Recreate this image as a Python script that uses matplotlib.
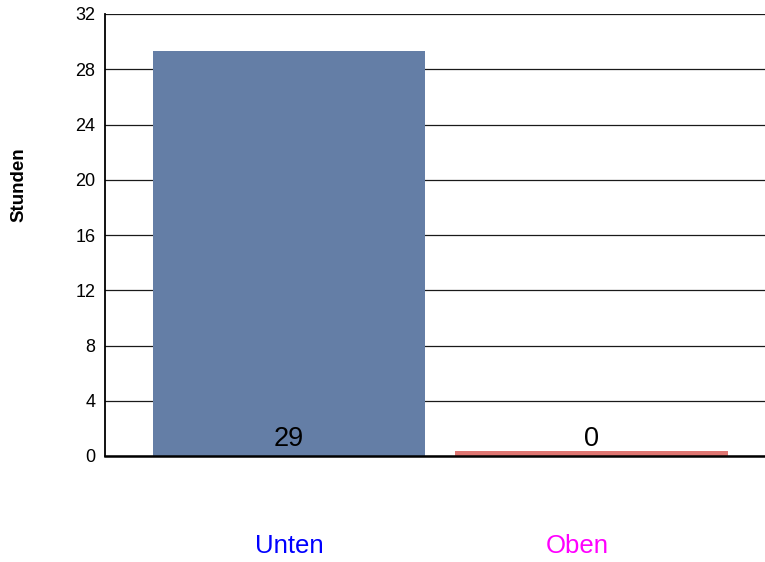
import matplotlib
matplotlib.use("Agg")
import matplotlib.pyplot as plt
import matplotlib.transforms as mtransforms

plt.rcParams['font.family'] = ['Liberation Sans', 'DejaVu Sans']

categories = ["Unten", "Oben"]
values = [29.3, 0.35]
value_labels = ["29", "0"]
bar_colors = ["#647ea6", "#de7571"]
label_colors = ["#0000ff", "#ff00ff"]
yticks = [0, 4, 8, 12, 16, 20, 24, 28, 32]

fig = plt.figure(figsize=(7.65, 5.62), dpi=100)
ax = fig.add_axes([105/765, (562-456)/562, 660/765, 442/562])

x = list(range(len(categories)))
ax.set_axisbelow(True)
ax.yaxis.grid(True, color="#1a1a1a", linewidth=0.9)
ax.bar(x, values, width=0.9, color=bar_colors, zorder=2)

for xi, lab in zip(x, value_labels):
    ax.annotate(lab, xy=(xi, 0), xytext=(0, 12.3), textcoords="offset points",
                ha="center", va="center", fontsize=19.5, color="black", zorder=3)

ax.set_xlim(-0.609, 1.574)
ax.set_ylim(0, 32)
ax.set_yticks(yticks)
ax.tick_params(axis="y", length=0, pad=7, labelsize=13)
ax.set_xticks(x)
ax.set_xticklabels(categories, fontsize=18.5)
ax.tick_params(axis="x", length=0, pad=56)
for t, c in zip(ax.get_xticklabels(), label_colors):
    t.set_color(c)
lbls = ax.get_xticklabels()
lbls[1].set_transform(lbls[1].get_transform() + mtransforms.ScaledTranslation(-14/100, 0, fig.dpi_scale_trans))

for s in ["top", "right"]:
    ax.spines[s].set_visible(False)
ax.spines["left"].set_linewidth(1.3)
ax.spines["bottom"].set_linewidth(1.8)
ax.set_ylabel("Stunden", fontsize=13.5, fontweight="bold")
ax.yaxis.set_label_coords(-(105-19)/660, (456-185)/442)
ax.yaxis.label.set_va("center")

fig.savefig("out.png", dpi=100)
